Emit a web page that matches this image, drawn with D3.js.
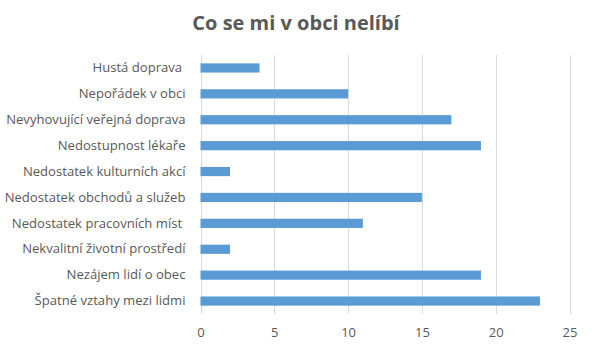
<!DOCTYPE html>
<html>
<head>
<meta charset="utf-8">
<script src="https://cdn.jsdelivr.net/npm/d3@7"></script>
<style>
  html, body { margin: 0; padding: 0; background: #fff; }
  svg { display: block; font-family: "Open Sans", "Liberation Sans", sans-serif; }
  text { white-space: pre; }
</style>
</head>
<body>
<svg id="chart" width="592" height="349"></svg>
<script>
const title = "Co se mi v obci nelíbí";
const categories = [
  "Hustá doprava ",
  "Nepořádek v obci",
  "Nevyhovující veřejná doprava",
  "Nedostupnost lékaře",
  "Nedostatek kulturních akcí",
  "Nedostatek obchodů a služeb",
  "Nedostatek pracovních míst ",
  "Nekvalitní životní prostředí",
  "Nezájem lidí o obec",
  "Špatné vztahy mezi lidmi"
];
const values = [4, 10, 17, 19, 2, 15, 11, 2, 19, 23];
const xTicks = [0, 5, 10, 15, 20, 25];

const svg = d3.select("#chart");
const margin = { left: 200.5, right: 22.5, top: 55, bottom: 35 };
const W = 592, H = 349;

const x = d3.scaleLinear().domain([0, 25]).range([margin.left, W - margin.right]);
const y = d3.scaleBand().domain(categories).range([margin.top, H - margin.bottom])
  .paddingInner(0.645).paddingOuter(0.3225);

// title
svg.append("text")
  .attr("x", 296).attr("y", 29.5)
  .attr("text-anchor", "middle")
  .attr("font-size", 20).attr("font-weight", "bold")
  .attr("fill", "#595959")
  .text(title);

// vertical gridlines
svg.append("g")
  .selectAll("line").data(xTicks).join("line")
  .attr("x1", d => Math.round(x(d)) + 0.5).attr("x2", d => Math.round(x(d)) + 0.5)
  .attr("y1", margin.top).attr("y2", H - margin.bottom)
  .attr("stroke", "#d9d9d9").attr("stroke-width", 1);

// bars
svg.append("g")
  .selectAll("rect").data(values).join("rect")
  .attr("x", x(0))
  .attr("y", (d, i) => y(categories[i]))
  .attr("width", d => x(d) - x(0))
  .attr("height", y.bandwidth())
  .attr("fill", "#5b9bd5");

// x axis labels
const xAxis = d3.axisBottom(x).tickValues(xTicks).tickSize(0).tickPadding(0);
const gx = svg.append("g").attr("transform", `translate(0,${H - margin.bottom + 14})`).call(xAxis);
gx.select(".domain").remove();
gx.selectAll("text").attr("font-size", 13).attr("fill", "#595959")
  .attr("font-family", "'Open Sans', 'Liberation Sans', sans-serif");

// category labels
const yAxis = d3.axisLeft(y).tickSize(0).tickPadding(15);
const gy = svg.append("g").attr("transform", `translate(${margin.left},0)`).call(yAxis);
gy.select(".domain").remove();
gy.selectAll("text").attr("font-size", 13.1).attr("fill", "#595959")
  .attr("font-family", "'Open Sans', 'Liberation Sans', sans-serif")
  .style("white-space", "pre");
</script>
</body>
</html>
